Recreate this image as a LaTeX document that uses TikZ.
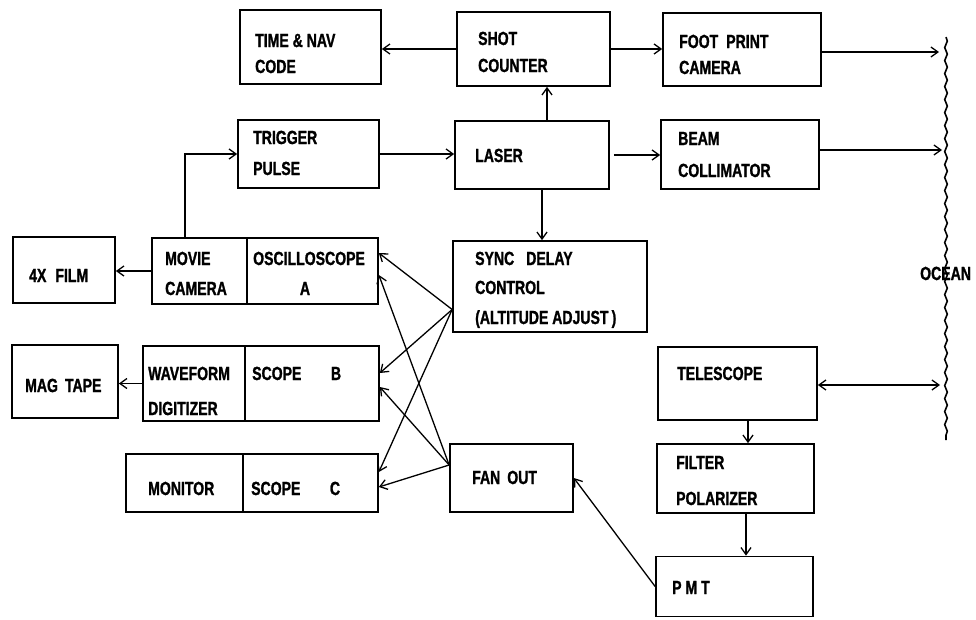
\documentclass[tikz,border=0pt]{standalone}
\usepackage{fontspec}
\newfontfamily\lblfont{Liberation Sans Bold}[FakeStretch=0.74,FakeBold=1.2]
\usetikzlibrary{arrows.meta,decorations.pathmorphing}
\begin{document}
\begin{tikzpicture}[x=1pt,y=-1pt,
  box/.style={draw, line width=1.7pt, inner sep=0pt},
  conn/.style={line width=1.3pt, -{Straight Barb[length=7pt,width=10pt]}},
  conn2/.style={line width=1.3pt, {Straight Barb[length=7pt,width=10pt]}-{Straight Barb[length=7pt,width=10pt]}},
  lbl/.style={font=\lblfont\fontsize{19}{19}\selectfont, inner sep=0pt, anchor=base west},
  clbl/.style={lbl, anchor=base},
  oceanline/.style={line width=1.6pt, decorate, decoration={snake, amplitude=1.3pt, segment length=13pt}}]
\useasboundingbox (0,0) rectangle (976,619);

% boxes
\node[box, minimum width=141pt, minimum height=74pt] (time) at (310.5,47) {};
\node[box, minimum width=153pt, minimum height=74pt] (shot) at (533.5,49) {};
\node[box, minimum width=158pt, minimum height=73pt] (foot) at (742,49.5) {};
\node[box, minimum width=141pt, minimum height=68pt] (trig) at (308.5,154) {};
\node[box, minimum width=154pt, minimum height=68pt] (laser) at (532,155) {};
\node[box, minimum width=158pt, minimum height=69pt] (beam) at (740,154.5) {};
\node[box, minimum width=102pt, minimum height=66pt] (film) at (64,270) {};
\node[box, minimum width=95pt, minimum height=66pt] (movie) at (199.5,271) {};
\node[box, minimum width=131pt, minimum height=66pt] (oscA) at (312.5,271) {};
\node[box, minimum width=194pt, minimum height=91pt] (sync) at (550,286.5) {};
\node[box, minimum width=106pt, minimum height=73pt] (mag) at (65,381.5) {};
\node[box, minimum width=102pt, minimum height=75pt] (wave) at (194,383.5) {};
\node[box, minimum width=134pt, minimum height=75pt] (scopeB) at (312,383.5) {};
\node[box, minimum width=159pt, minimum height=73pt] (tele) at (737.5,383.5) {};
\node[box, minimum width=117pt, minimum height=58pt] (mon) at (184.5,483) {};
\node[box, minimum width=135pt, minimum height=58pt] (scopeC) at (310.5,483) {};
\node[box, minimum width=123pt, minimum height=68pt] (fan) at (511.5,478) {};
\node[box, minimum width=157pt, minimum height=69pt] (filt) at (735.5,478.5) {};
\node[box, minimum width=157pt, minimum height=60pt] (pmt) at (734.5,586.5) {};

% labels
\node[lbl] (t1) at (255,47) {TIME \& NAV};
\node[lbl] (t2) at (255,73) {CODE};
\node[lbl] (t3) at (478,45) {SHOT};
\node[lbl] (t4) at (478,72) {COUNTER};
\node[lbl] (t5) at (679,48) {FOOT\hspace{8pt}PRINT};
\node[lbl] (t6) at (679,74) {CAMERA};
\node[lbl] (t7) at (253,144) {TRIGGER};
\node[lbl] (t8) at (253,175) {PULSE};
\node[lbl] (t9) at (475,162) {LASER};
\node[lbl] (t10) at (678,145) {BEAM};
\node[lbl] (t11) at (678,177) {COLLIMATOR};
\node[lbl] (t12) at (29,282) {4X\hspace{9pt}FILM};
\node[lbl] (t13) at (165,265) {MOVIE};
\node[lbl] (t14) at (165,295) {CAMERA};
\node[lbl] (t15) at (253,265) {OSCILLOSCOPE};
\node[clbl] (t16) at (305,295) {A};
\node[lbl] (t17) at (475,265) {SYNC\hspace{12pt}DELAY};
\node[lbl] (t18) at (475,294) {CONTROL};
\node[lbl] (t19) at (475,324) {(ALTITUDE ADJUST\,)};
\node[lbl] (t20) at (25,392) {MAG\hspace{7pt}TAPE};
\node[lbl] (t21) at (148,380) {WAVEFORM};
\node[lbl] (t22) at (148,415) {DIGITIZER};
\node[lbl] (t23) at (252,380) {SCOPE};
\node[clbl] (t24) at (336,380) {B};
\node[lbl] (t25) at (677,380) {TELESCOPE};
\node[lbl] (t26) at (148,495) {MONITOR};
\node[lbl] (t27) at (251,495) {SCOPE};
\node[clbl] (t28) at (335,495) {C};
\node[lbl] (t29) at (472,484) {FAN\hspace{7pt}OUT};
\node[lbl] (t30) at (676,469) {FILTER};
\node[lbl] (t31) at (676,505) {POLARIZER};
\node[lbl] (t32) at (672,594) {P M T};
\node[lbl] (t33) at (920,280) {OCEAN};

% ocean surface
\coordinate (otop) at (946,37);
\coordinate (obot) at (946,440);
\draw[oceanline] (otop) -- (obot);
\coordinate (oc1) at (939,52);
\coordinate (oc2) at (942,150);
\coordinate (oc3) at (940,385);

% connectors
\draw[conn] (shot.west) -- (shot.west -| time.east);
\draw[conn] (shot.east) -- (shot.east -| foot.west);
\draw[conn] (foot.east |- oc1) -- (oc1);
\draw[conn] (trig.east) -- (trig.east -| laser.west);
\draw[conn] ([xshift=4pt]laser.east) -- (laser.east -| beam.west);
\draw[conn] (beam.east |- oc2) -- (oc2);
\draw[conn] ([xshift=15pt]laser.north) -- ([xshift=15pt]laser.north |- shot.south);
\draw[conn] ([xshift=10pt]laser.south) -- ([xshift=10pt]laser.south |- sync.north);
\draw[conn] ([xshift=-14.5pt]movie.north) |- (trig.west);
\draw[conn] (movie.west) -- (movie.west -| film.east);
\draw[conn] (wave.west) -- (wave.west -| mag.east);
\draw[conn2] (tele.east |- oc3) -- (oc3);
\draw[conn] ([xshift=10.5pt]tele.south) -- ([xshift=10.5pt]tele.south |- filt.north);
\draw[conn] ([xshift=10.5pt]filt.south) -- ([xshift=10.5pt]filt.south |- pmt.north);
\draw[conn] (pmt.west) -- (fan.east);

\coordinate (sp) at ([yshift=-23pt]sync.west);
\coordinate (fp) at ([yshift=13pt]fan.west);
\draw[conn] (sp) -- ([yshift=18pt]oscA.east);
\draw[conn] (sp) -- ([yshift=10.5pt]scopeB.east);
\draw[conn] (sp) -- ([yshift=11pt]scopeC.east);
\draw[conn] (fp) -- ([yshift=-4pt]oscA.east);
\draw[conn] (fp) -- ([yshift=-3.5pt]scopeB.east);
\draw[conn] (fp) -- ([yshift=-4pt]scopeC.east);
\end{tikzpicture}
\end{document}
